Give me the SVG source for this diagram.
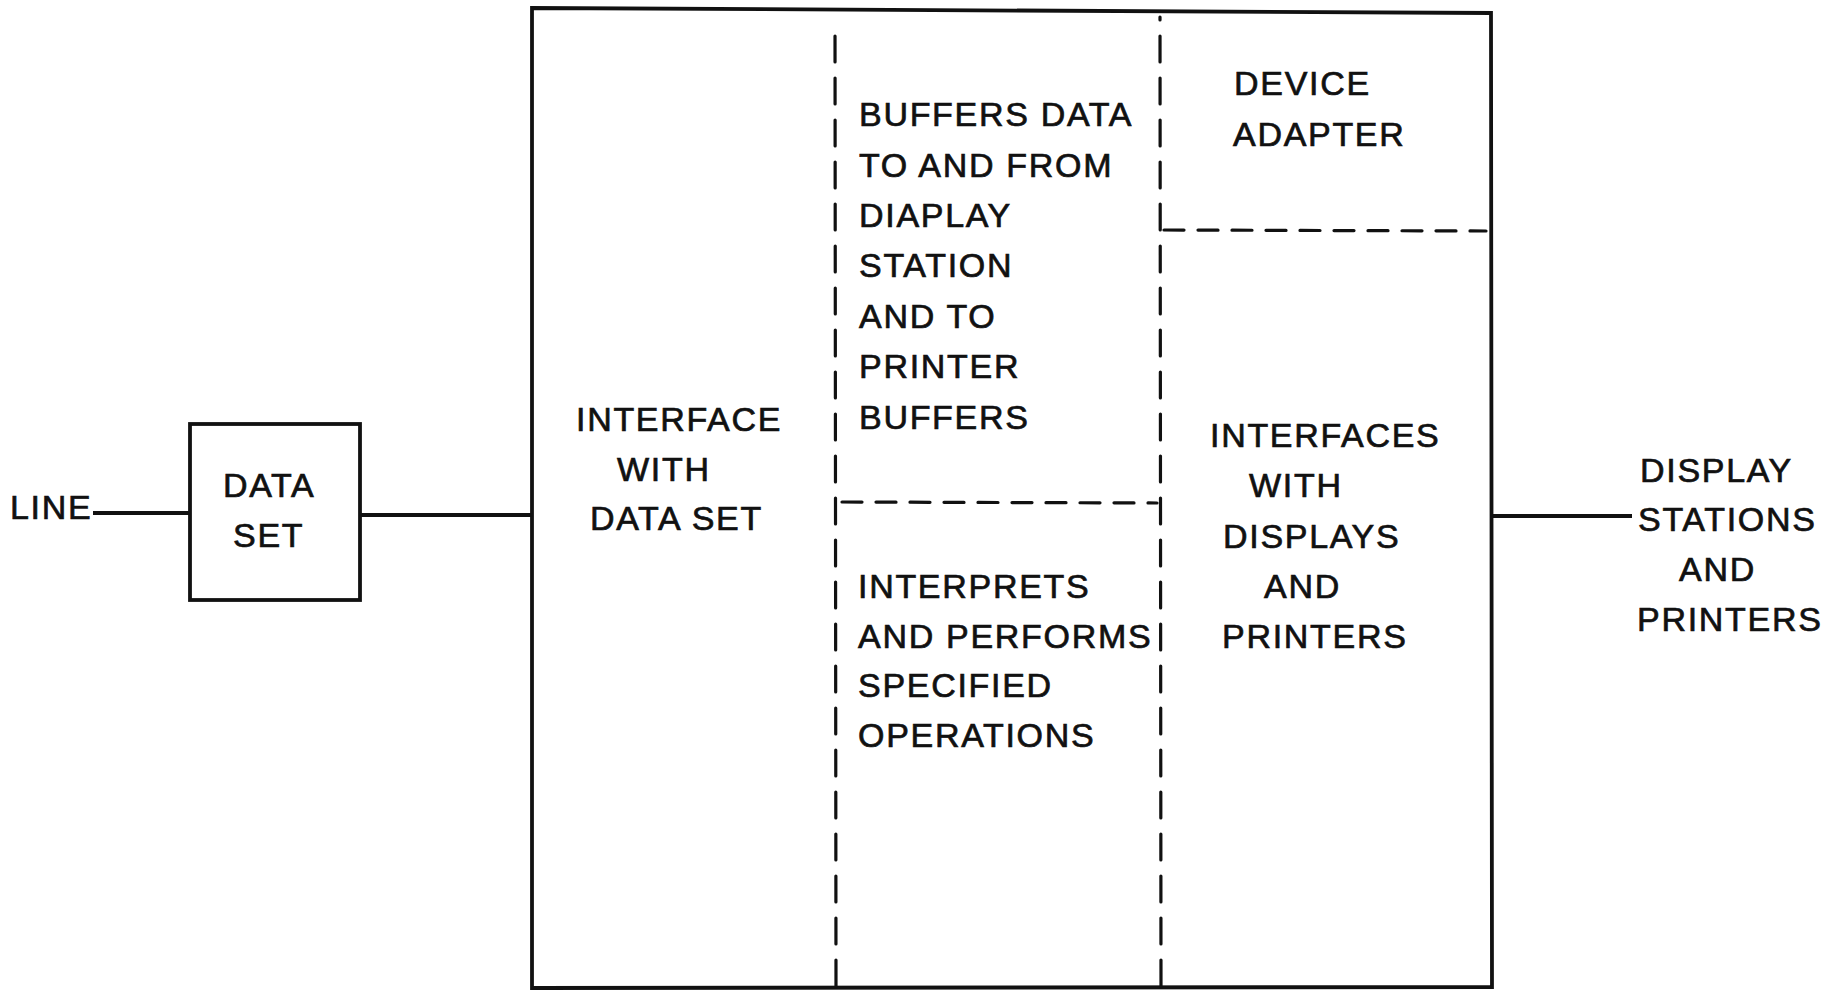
<svg xmlns="http://www.w3.org/2000/svg" width="1839" height="990" viewBox="0 0 1839 990">
<style>
  text { font-family: "Liberation Sans", Arial, sans-serif; font-size: 34px; letter-spacing: 1.7px; fill: #111; stroke: #111; stroke-width: 0.7px; }
  .solid { fill: none; stroke: #111; stroke-width: 3.8; stroke-linejoin: miter; }
  .dashv { fill: none; stroke: #111; stroke-width: 3.2; stroke-dasharray: 26 16; stroke-linecap: round; }
  .dashh { fill: none; stroke: #111; stroke-width: 3.2; stroke-dasharray: 20 14; stroke-linecap: round; }
</style>
<rect x="0" y="0" width="1839" height="990" fill="#ffffff"/>

<g id="connectors">
  <line class="solid" x1="93" y1="513" x2="190" y2="513"/>
  <line class="solid" x1="360" y1="515" x2="532" y2="515"/>
  <line class="solid" x1="1491" y1="516" x2="1632" y2="516"/>
</g>

<g id="line-label">
  <text x="10" y="519" letter-spacing="2.5">LINE</text>
</g>

<g id="data-set">
  <rect class="solid" x="190" y="424" width="170" height="176"/>
  <text x="223" y="497" letter-spacing="3.5">DATA</text>
  <text x="233" y="547">SET</text>
</g>

<g id="controller">
  <path class="solid" d="M532,8 L1491,13 L1492,987 L532,988 Z"/>
  <line class="dashv" x1="836" y1="986" x2="835" y2="22"/>
  <line class="dashv" x1="1161" y1="986" x2="1160" y2="17"/>
  <line class="dashh" x1="842" y1="502" x2="1157" y2="503"/>
  <line class="dashh" x1="1164" y1="230" x2="1486" y2="231"/>
</g>

<g id="interface-data-set">
  <text x="576" y="431">INTERFACE</text>
  <text x="617" y="481">WITH</text>
  <text x="590" y="530">DATA SET</text>
</g>

<g id="buffers">
  <text x="859" y="126" letter-spacing="2.4">BUFFERS DATA</text>
  <text x="859" y="177">TO AND FROM</text>
  <text x="859" y="227">DIAPLAY</text>
  <text x="859" y="277">STATION</text>
  <text x="859" y="328">AND TO</text>
  <text x="859" y="378">PRINTER</text>
  <text x="859" y="429">BUFFERS</text>
</g>

<g id="interprets">
  <text x="858" y="598">INTERPRETS</text>
  <text x="858" y="648">AND PERFORMS</text>
  <text x="858" y="697">SPECIFIED</text>
  <text x="858" y="747">OPERATIONS</text>
</g>

<g id="device-adapter">
  <text x="1234" y="95">DEVICE</text>
  <text x="1233" y="146">ADAPTER</text>
</g>

<g id="interfaces-displays">
  <text x="1210" y="447">INTERFACES</text>
  <text x="1249" y="497">WITH</text>
  <text x="1223" y="548">DISPLAYS</text>
  <text x="1264" y="598">AND</text>
  <text x="1222" y="648">PRINTERS</text>
</g>

<g id="display-stations">
  <text x="1640" y="482">DISPLAY</text>
  <text x="1638" y="531">STATIONS</text>
  <text x="1679" y="581">AND</text>
  <text x="1637" y="631">PRINTERS</text>
</g>
</svg>
